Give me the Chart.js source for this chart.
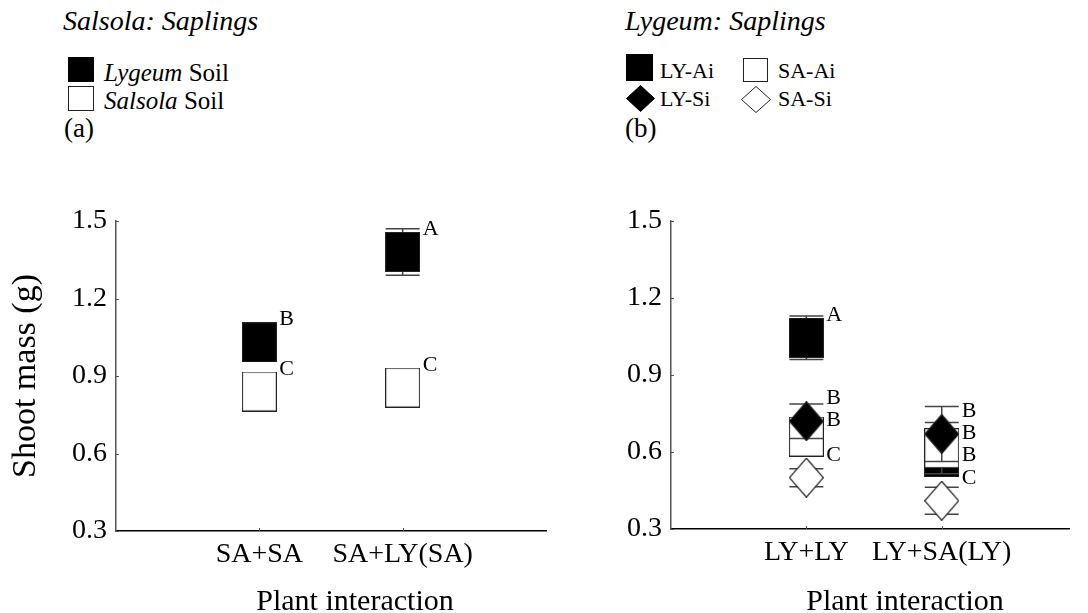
<!DOCTYPE html>
<html>
<head>
<meta charset="utf-8">
<script src="https://cdn.jsdelivr.net/npm/chart.js@4.4.1/dist/chart.umd.min.js"></script>
<style>
  body { margin: 0; background: #fff; }
  #page { position: relative; width: 1088px; height: 613px; overflow: hidden; font-family: 'Liberation Serif', 'Times New Roman', serif; color: #000; }
  .t { position: absolute; white-space: nowrap; line-height: 1; }
  .i { font-style: italic; }
  .xt { position: absolute; width: 400px; text-align: center; font-size: 30px; line-height: 1; top: 585px; }
  svg { position: absolute; overflow: visible; }
  canvas { position: absolute; top: 0; }
</style>
</head>
<body>
<div id="page">
  <!-- panel (a) header + legend -->
  <div class="t i" style="left:63px;top:7px;font-size:28px">Salsola: Saplings</div>
  <svg style="left:68px;top:57px" width="26" height="25"><rect x="0.5" y="0.5" width="25" height="24" fill="#000" stroke="#000"/></svg>
  <div class="t" style="left:104px;top:60px;font-size:25px"><span class="i">Lygeum</span> Soil</div>
  <svg style="left:68px;top:86px" width="26" height="25"><rect x="0.5" y="0.5" width="25" height="24" fill="#fff" stroke="#222"/></svg>
  <div class="t" style="left:104px;top:88px;font-size:25px"><span class="i">Salsola</span> Soil</div>
  <div class="t" style="left:64px;top:115px;font-size:27px">(a)</div>

  <!-- panel (b) header + legend -->
  <div class="t i" style="left:625px;top:7px;font-size:28px">Lygeum: Saplings</div>
  <svg style="left:626px;top:54px" width="27" height="27"><rect x="0.5" y="0.5" width="26" height="26" fill="#000" stroke="#000"/></svg>
  <div class="t" style="left:660px;top:60px;font-size:22px">LY-Ai</div>
  <svg style="left:743px;top:58px" width="25" height="24"><rect x="0.5" y="0.5" width="24" height="23" fill="#fff" stroke="#222"/></svg>
  <div class="t" style="left:778px;top:60px;font-size:22px">SA-Ai</div>
  <svg style="left:626px;top:85px" width="29" height="27"><polygon points="14.5,0.5 28.5,13.5 14.5,26.5 0.5,13.5" fill="#000" stroke="#000"/></svg>
  <div class="t" style="left:660px;top:88px;font-size:22px">LY-Si</div>
  <svg style="left:741px;top:86px" width="30" height="27"><polygon points="15,0.5 29.5,13.5 15,26.5 0.5,13.5" fill="#fff" stroke="#222"/></svg>
  <div class="t" style="left:778px;top:88px;font-size:22px">SA-Si</div>
  <div class="t" style="left:625px;top:115px;font-size:27px">(b)</div>

  <canvas id="chartA" width="565" height="613" style="left:0"></canvas>
  <canvas id="chartB" width="528" height="613" style="left:560px"></canvas>

  <!-- x axis titles -->
  <div class="xt" style="left:155px">Plant interaction</div>
  <div class="xt" style="left:705px">Plant interaction</div>
</div>
<script>
// ---- data ----
const yTicks = [0.3, 0.6, 0.9, 1.2, 1.5];

// (a) Salsola saplings
const catsA = ['SA+SA', 'SA+LY(SA)'];
const lygeumSoil = [1.03, 1.38];
const lygeumSoilErr = [0.03, 0.09];
const lygeumSoilLetters = ['B', 'A'];
const salsolaSoil = [0.84, 0.855];
const salsolaSoilErr = [0.03, 0.03];
const salsolaSoilLetters = ['C', 'C'];

// (b) Lygeum saplings
const catsB = ['LY+LY', 'LY+SA(LY)'];
const lyAi = [1.045, 0.58];
const lyAiErr = [0.085, 0.03];
const lyAiLetters = ['A', 'B'];
const saAi = [0.66, 0.615];
const saAiErr = [0.03, 0.1];
const saAiLetters = ['B', 'B'];
const lySi = [0.72, 0.67];
const lySiErr = [0.067, 0.107];
const lySiLetters = ['B', 'B'];
const saSi = [0.5, 0.41];
const saSiErr = [0.035, 0.053];
const saSiLetters = ['C', 'C'];

const FONT = "'Liberation Serif', 'Times New Roman', serif";

// marker images (about 34x39, like the original symbols)
function marker(shape, fill) {
  const c = document.createElement('canvas');
  c.width = 35; c.height = 40;
  const g = c.getContext('2d');
  g.fillStyle = fill;
  g.strokeStyle = '#222';
  g.lineWidth = 1.2;
  if (shape === 'square') {
    g.fillRect(0.5, 0.5, 34, 39);
    g.strokeRect(0.5, 0.5, 34, 39);
  } else {
    g.beginPath();
    g.moveTo(17.5, 0.5); g.lineTo(34.5, 20); g.lineTo(17.5, 39.5); g.lineTo(0.5, 20);
    g.closePath(); g.fill(); g.stroke();
  }
  return c;
}

// error bars drawn just before each dataset's markers
const errorBars = {
  id: 'errorBars',
  beforeDatasetDraw(chart, args) {
    const ds = chart.data.datasets[args.index];
    const { ctx, scales: { x, y } } = chart;
    ctx.save();
    ctx.strokeStyle = '#444';
    ctx.lineWidth = 1.5;
    ds.data.forEach((p, i) => {
      const px = x.getPixelForValue(p.x);
      const hi = y.getPixelForValue(p.y + ds.err[i]);
      const lo = y.getPixelForValue(p.y - ds.err[i]);
      ctx.beginPath();
      ctx.moveTo(px, hi); ctx.lineTo(px, lo);
      ctx.moveTo(px - 17, hi); ctx.lineTo(px + 17, hi);
      ctx.moveTo(px - 17, lo); ctx.lineTo(px + 17, lo);
      ctx.stroke();
    });
    ctx.restore();
  }
};

// small inward tick marks on both axes
const innerTicks = {
  id: 'innerTicks',
  afterDraw(chart) {
    const { ctx, chartArea: a, scales: { x, y } } = chart;
    ctx.save();
    ctx.strokeStyle = '#555';
    ctx.lineWidth = 1;
    ctx.beginPath();
    y.ticks.forEach(t => {
      const py = Math.round(y.getPixelForValue(t.value)) + 0.5;
      ctx.moveTo(a.left, py); ctx.lineTo(a.left + 3, py);
    });
    x.ticks.forEach(t => {
      const px = Math.round(x.getPixelForValue(t.value)) + 0.5;
      ctx.moveTo(px, a.bottom); ctx.lineTo(px, a.bottom - 3);
    });
    ctx.stroke();
    ctx.restore();
  }
};

// significance letters to the upper right of each symbol
const letterMarks = {
  id: 'letterMarks',
  afterDatasetsDraw(chart) {
    const { ctx, scales: { x, y } } = chart;
    const groups = {};
    chart.data.datasets.forEach(ds => {
      ds.data.forEach((p, i) => {
        (groups[p.x] = groups[p.x] || []).push({
          px: x.getPixelForValue(p.x) + 20,
          py: y.getPixelForValue(p.y) - 17,
          t: ds.letters[i]
        });
      });
    });
    ctx.save();
    ctx.font = '22px ' + FONT;
    ctx.fillStyle = '#000';
    ctx.textAlign = 'left';
    ctx.textBaseline = 'alphabetic';
    Object.values(groups).forEach(g => {
      g.sort((a, b) => a.py - b.py);
      for (let k = 1; k < g.length; k++) g[k].py = Math.max(g[k].py, g[k - 1].py + 22);
      g.forEach(l => ctx.fillText(l.t, l.px, l.py));
    });
    ctx.restore();
  }
};

function series(label, values, err, letters, img, order) {
  return {
    label,
    data: values.map((v, i) => ({ x: i + 1, y: v })),
    err, letters,
    pointStyle: img,
    pointRadius: 18,
    order
  };
}

function makeChart(id, cats, datasets, cfg) {
  return new Chart(document.getElementById(id), {
    type: 'scatter',
    data: { datasets },
    options: {
      responsive: false,
      animation: false,
      events: [],
      layout: { padding: { top: 221, bottom: cfg.padBottom, left: 0, right: cfg.padRight } },
      plugins: { legend: { display: false }, tooltip: { enabled: false } },
      scales: {
        x: {
          type: 'linear',
          min: 0,
          max: cfg.xMax,
          afterBuildTicks: s => { s.ticks = cats.map((c, i) => ({ value: i + 1 })); },
          afterFit: s => { s.height = 82; },
          grid: { display: false, drawTicks: false },
          border: { color: '#000', width: 1.5 },
          ticks: {
            callback: v => cats[v - 1],
            font: { family: FONT, size: 28 },
            color: '#000',
            padding: 7,
            maxRotation: 0,
            autoSkip: false
          }
        },
        y: {
          min: 0.3,
          max: 1.5,
          afterBuildTicks: s => { s.ticks = yTicks.map(v => ({ value: v })); },
          afterFit: s => { s.width = cfg.yWidth; },
          grid: { display: false, drawTicks: false },
          border: { color: '#555', width: 1.5 },
          ticks: {
            callback: v => v.toFixed(1),
            font: { family: FONT, size: 28 },
            color: '#000',
            padding: 9
          },
          title: {
            display: cfg.yTitle,
            text: 'Shoot mass (g)',
            font: { family: FONT, size: 34 },
            color: '#000',
            padding: { top: 6, bottom: 0 }
          }
        }
      }
    },
    plugins: [errorBars, letterMarks, innerTicks]
  });
}

const blackSq = marker('square', '#000');
const whiteSq = marker('square', '#fff');
const blackDi = marker('diamond', '#000');
const whiteDi = marker('diamond', '#fff');

makeChart('chartA', catsA, [
  series('Lygeum Soil', lygeumSoil, lygeumSoilErr, lygeumSoilLetters, blackSq, 2),
  series('Salsola Soil', salsolaSoil, salsolaSoilErr, salsolaSoilLetters, whiteSq, 1)
], { xMax: 3, yWidth: 116, padRight: 10, padBottom: 0, yTitle: true });

makeChart('chartB', catsB, [
  series('LY-Ai', lyAi, lyAiErr, lyAiLetters, blackSq, 4),
  series('SA-Ai', saAi, saAiErr, saAiLetters, whiteSq, 3),
  series('LY-Si', lySi, lySiErr, lySiLetters, blackDi, 2),
  series('SA-Si', saSi, saSiErr, saSiLetters, whiteDi, 1)
], { xMax: 2.94, yWidth: 111, padRight: 0, padBottom: 2, yTitle: false });
</script>
</body>
</html>
